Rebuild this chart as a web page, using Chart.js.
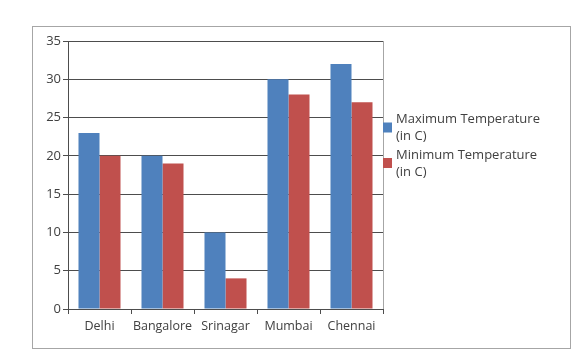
<!DOCTYPE html>
<html>
<head>
<meta charset="utf-8">
<script src="https://cdn.jsdelivr.net/npm/chart.js@4.4.1/dist/chart.umd.min.js"></script>
<style>
  html, body { margin: 0; padding: 0; background: #fff; }
  #wrap { width: 572px; height: 351px; position: relative; }
</style>
</head>
<body>
<div id="wrap"><canvas id="grafica"></canvas></div>
<script>
const ciudades = ['Delhi', 'Bangalore', 'Srinagar', 'Mumbai', 'Chennai'];
const tempMax = [23, 20, 10, 30, 32];
const tempMin = [20, 19, 4, 28, 27];
const etiquetaMax = ['Maximum Temperature', '(in C)'];
const etiquetaMin = ['Minimum Temperature', '(in C)'];

const fuente = { family: 'Open Sans', size: 13 };
const fuenteX = { family: 'Open Sans', size: 12.5 };
const colorTexto = '#404040';
const colorGrid = '#4d4d4d';

// marco exterior, borde derecho del area y leyenda de dos lineas
const marcoYLeyenda = {
  id: 'marcoYLeyenda',
  beforeDraw(chart) {
    const ctx = chart.ctx;
    ctx.save();
    ctx.strokeStyle = '#a6a6a6';
    ctx.lineWidth = 1;
    ctx.strokeRect(32.5, 26.5, 538, 322);
    ctx.restore();
  },
  afterDraw(chart) {
    const ctx = chart.ctx;
    const area = chart.chartArea;
    ctx.save();
    ctx.strokeStyle = '#a6a6a6';
    ctx.beginPath();
    ctx.moveTo(Math.round(area.right) + 0.5, area.top);
    ctx.lineTo(Math.round(area.right) + 0.5, area.bottom);
    ctx.stroke();

    ctx.font = fuente.size + 'px ' + fuente.family;
    ctx.textBaseline = 'middle';
    const x0 = Math.round(area.right);
    chart.data.datasets.forEach((ds, i) => {
      const y = 119.5 + i * 35.5;
      ctx.fillStyle = ds.backgroundColor;
      ctx.fillRect(x0, y + 3, 9, 10);
      ctx.fillStyle = colorTexto;
      ds.lineas.forEach((t, j) => ctx.fillText(t, x0 + 13, y + j * 16.8));
    });
    ctx.restore();
  }
};

new Chart(document.getElementById('grafica'), {
  type: 'bar',
  data: {
    labels: ciudades,
    datasets: [
      { label: etiquetaMax.join(' '), lineas: etiquetaMax, data: tempMax, backgroundColor: '#4f81bd' },
      { label: etiquetaMin.join(' '), lineas: etiquetaMin, data: tempMin, backgroundColor: '#c0504d' }
    ]
  },
  options: {
    responsive: true,
    maintainAspectRatio: false,
    animation: false,
    layout: { padding: { left: 32, top: 41, right: 189, bottom: 0 } },
    plugins: { legend: { display: false }, tooltip: { enabled: false } },
    datasets: { bar: { categoryPercentage: 0.667, barPercentage: 1.0 } },
    scales: {
      x: {
        grid: { drawOnChartArea: false, drawTicks: true, tickLength: 5, color: colorGrid, offset: true },
        border: { color: colorGrid },
        ticks: { color: colorTexto, font: fuenteX, padding: 5, maxRotation: 0, minRotation: 0, autoSkip: false },
        afterFit(s) { s.height = 42; }
      },
      y: {
        min: 0, max: 35,
        grid: { color: colorGrid, tickLength: 5 },
        border: { color: colorGrid },
        ticks: { stepSize: 5, color: colorTexto, font: fuente, padding: 2 },
        afterFit(s) { s.width = 36; }
      }
    }
  },
  plugins: [marcoYLeyenda]
});
</script>
</body>
</html>
